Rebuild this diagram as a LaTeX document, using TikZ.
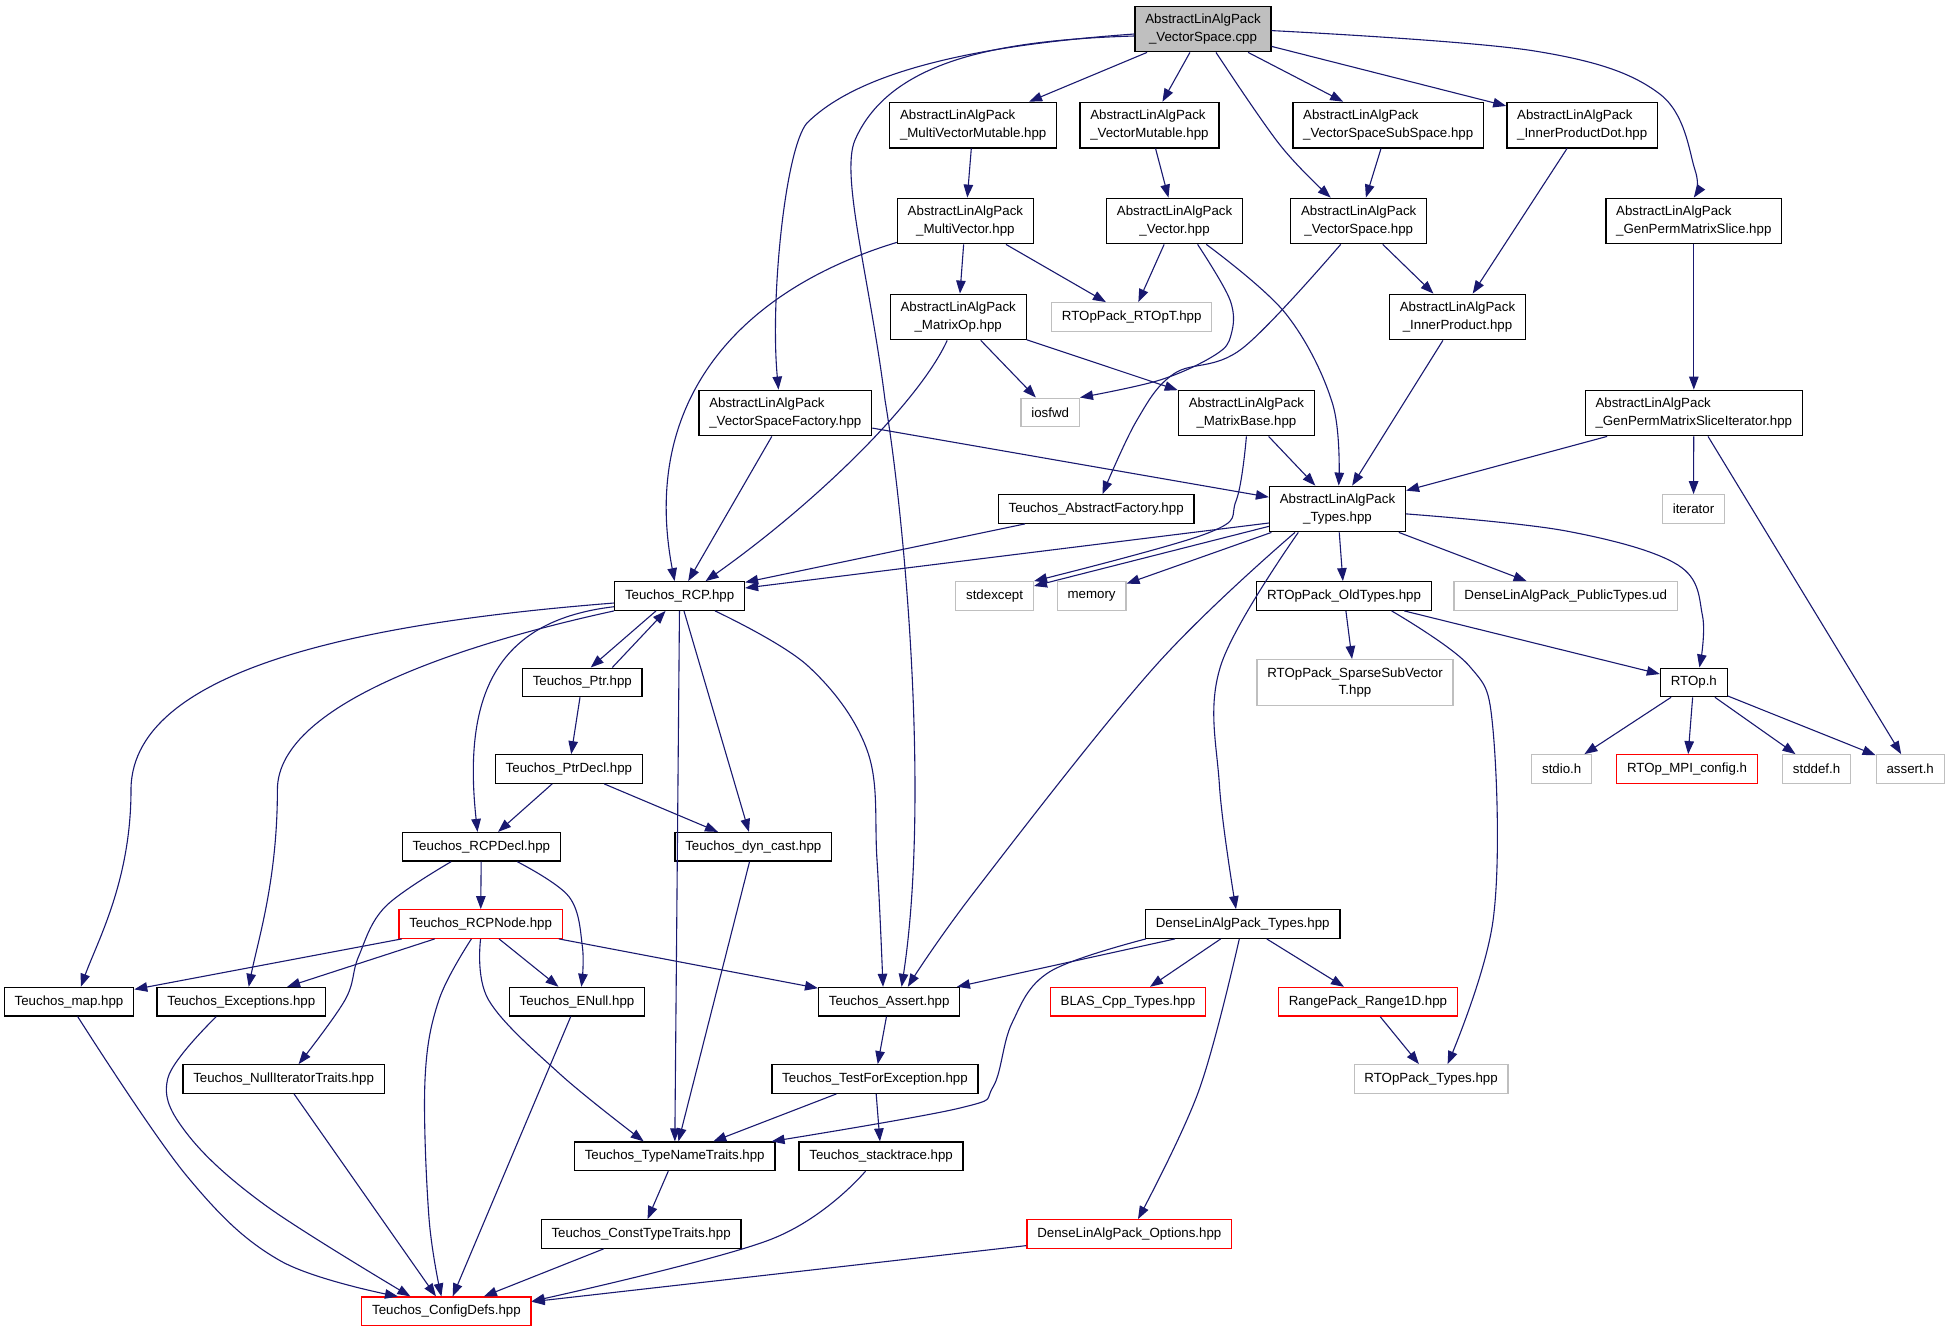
\documentclass[tikz,border=0pt]{standalone}
\usepackage{fontspec}
\setmainfont{Liberation Sans}
\usetikzlibrary{arrows.meta}
\definecolor{edgeblue}{HTML}{191970}
\definecolor{greyline}{HTML}{BFBFBF}
\definecolor{rootfill}{HTML}{BFBFBF}
\definecolor{redline}{HTML}{FF0000}
\begin{document}
\begin{tikzpicture}[x=1pt,y=-1pt,
  box/.style={draw=black,line width=1.3pt,rectangle,inner xsep=10.3pt,inner ysep=2pt,
    minimum height=28.5pt,font=\fontsize{13.3}{17.4}\selectfont},
  two/.style={box,minimum height=45.5pt},
  greybox/.style={draw=greyline},
  redbox/.style={draw=redline},
  dep/.style={draw=edgeblue,line width=1.1pt,-{Triangle[length=13pt,width=9.5pt]}},
  sm/.style={smooth,tension=0.6}]
\useasboundingbox (0,0) rectangle (1949,1331);
\fill[white] (0,0) rectangle (1949,1331);

% nodes
\node[two,fill=rootfill,align=center] (root) at (1203,29) {AbstractLinAlgPack\\\_VectorSpace.cpp};
\node[two,align=left] (mvm) at (973.2,125.1) {AbstractLinAlgPack\\\_MultiVectorMutable.hpp};
\node[two,align=left] (vm) at (1149.4,125.1) {AbstractLinAlgPack\\\_VectorMutable.hpp};
\node[two,align=left] (vss) at (1388.2,125.1) {AbstractLinAlgPack\\\_VectorSpaceSubSpace.hpp};
\node[two,align=left] (ipd) at (1582.2,125.1) {AbstractLinAlgPack\\\_InnerProductDot.hpp};
\node[two,align=center] (mv) at (965.4,221) {AbstractLinAlgPack\\\_MultiVector.hpp};
\node[two,align=center] (vec) at (1174.6,221) {AbstractLinAlgPack\\\_Vector.hpp};
\node[two,align=center] (vs) at (1358.7,221) {AbstractLinAlgPack\\\_VectorSpace.hpp};
\node[two,align=left] (gpms) at (1693.8,221) {AbstractLinAlgPack\\\_GenPermMatrixSlice.hpp};
\node[two,align=center] (mop) at (958.2,317) {AbstractLinAlgPack\\\_MatrixOp.hpp};
\node[box,greybox] (rtopt) at (1131.7,317) {RTOpPack\_RTOpT.hpp};
\node[two,align=center] (ip) at (1457.5,317) {AbstractLinAlgPack\\\_InnerProduct.hpp};
\node[two,align=left] (vsf) at (785.3,413) {AbstractLinAlgPack\\\_VectorSpaceFactory.hpp};
\node[box,greybox] (iosfwd) at (1050.2,412.4) {iosfwd};
\node[two,align=center] (mb) at (1246.4,413) {AbstractLinAlgPack\\\_MatrixBase.hpp};
\node[two,align=left] (gpmsi) at (1693.8,413) {AbstractLinAlgPack\\\_GenPermMatrixSliceIterator.hpp};
\node[box] (af) at (1096.2,509) {Teuchos\_AbstractFactory.hpp};
\node[two,align=center] (types) at (1337.5,509) {AbstractLinAlgPack\\\_Types.hpp};
\node[box,greybox] (iterator) at (1693.5,509) {iterator};
\node[box] (rcp) at (679.6,596) {Teuchos\_RCP.hpp};
\node[box,greybox] (stdexcept) at (994.6,596) {stdexcept};
\node[box,greybox] (memory) at (1091.6,596) {memory};
\node[box] (old) at (1344,596) {RTOpPack\_OldTypes.hpp};
\node[box,greybox] (pub) at (1565.7,596) {DenseLinAlgPack\_PublicTypes.ud};
\node[box] (ptr) at (582.3,682.4) {Teuchos\_Ptr.hpp};
\node[two,greybox,align=center] (ssv) at (1355,682.4) {RTOpPack\_SparseSubVector\\T.hpp};
\node[box] (rtop) at (1693.8,682.4) {RTOp.h};
\node[box] (ptrdecl) at (568.9,769) {Teuchos\_PtrDecl.hpp};
\node[box,greybox] (stdio) at (1561.7,769) {stdio.h};
\node[box,redbox] (mpi) at (1687,769) {RTOp\_MPI\_config.h};
\node[box,greybox] (stddef) at (1816.6,769) {stddef.h};
\node[box,greybox] (asserth) at (1910.2,769) {assert.h};
\node[box] (rcpdecl) at (481.3,846.8) {Teuchos\_RCPDecl.hpp};
\node[box] (dyn) at (753.3,846.8) {Teuchos\_dyn\_cast.hpp};
\node[box,redbox] (rcpnode) at (480.6,924) {Teuchos\_RCPNode.hpp};
\node[box] (dense) at (1242.7,924) {DenseLinAlgPack\_Types.hpp};
\node[box] (map) at (69,1001.7) {Teuchos\_map.hpp};
\node[box] (exc) at (241.3,1001.7) {Teuchos\_Exceptions.hpp};
\node[box] (enull) at (577,1001.7) {Teuchos\_ENull.hpp};
\node[box] (assert) at (889.2,1001.7) {Teuchos\_Assert.hpp};
\node[box,redbox] (blas) at (1128,1001.7) {BLAS\_Cpp\_Types.hpp};
\node[box,redbox] (range) at (1368,1001.7) {RangePack\_Range1D.hpp};
\node[box] (nit) at (283.6,1079) {Teuchos\_NullIteratorTraits.hpp};
\node[box] (tfe) at (875,1079) {Teuchos\_TestForException.hpp};
\node[box,greybox] (rtoptypes) at (1431.1,1079) {RTOpPack\_Types.hpp};
\node[box] (tnt) at (674.7,1156.3) {Teuchos\_TypeNameTraits.hpp};
\node[box] (stack) at (881.1,1156.3) {Teuchos\_stacktrace.hpp};
\node[box] (ctt) at (641.1,1234) {Teuchos\_ConstTypeTraits.hpp};
\node[box,redbox] (options) at (1129.3,1234) {DenseLinAlgPack\_Options.hpp};
\node[box,redbox] (config) at (446.4,1311.3) {Teuchos\_ConfigDefs.hpp};

% straight edges
\foreach \a/\b in {root/mvm,root/vm,root/vss,root/ipd,mvm/mv,vm/vec,vss/vs,ipd/ip,gpms/gpmsi,
  mv/mop,mv/rtopt,vec/rtopt,vs/ip,ip/types,mop/iosfwd,mop/mb,mb/types,vsf/types,vsf/rcp,
  gpmsi/types,gpmsi/iterator,gpmsi/asserth,af/rcp,types/stdexcept,types/memory,types/old,types/pub,
  old/ssv,old/rtop,rtop/stdio,rtop/mpi,rtop/stddef,rtop/asserth,rcp/tnt,rcp/dyn,
  ptr/ptrdecl,ptrdecl/rcpdecl,ptrdecl/dyn,rcpdecl/rcpnode,rcpnode/map,rcpnode/exc,rcpnode/enull,
  rcpnode/assert,dense/assert,dense/blas,dense/range,range/rtoptypes,dyn/tnt,nit/config,
  enull/config,assert/tfe,tfe/tnt,tfe/stack,tnt/ctt,ctt/config,options/config}
  \draw[dep] (\a) -- (\b);

\draw[dep] ([yshift=-14pt]types.west) -- ([yshift=8pt]rcp.east);
\draw[dep] ([xshift=-23.6pt]rcp.south) -- ([xshift=8.4pt]ptr.north);
\draw[dep] ([xshift=30pt]ptr.north) -- ([xshift=-14pt]rcp.south);

% curved edges (Bezier)
\draw[dep] ([yshift=-5pt]root.west) .. controls (980,45) and (860,70) .. (806.7,123.3)
  .. controls (785,150) and (770,300) .. ([xshift=-6.8pt]vsf.north);
\draw[dep] ([yshift=-7pt]root.west) .. controls (1000,40) and (890,60) .. (855,140)
  .. controls (840,175) and (870,280) .. (885,400)
  .. controls (905,520) and (930,800) .. ([xshift=12.4pt]assert.north);
\draw[dep] ([yshift=2pt]mv.south west) .. controls (740,290) and (640,400) .. ([xshift=-5pt]rcp.north);
\draw[dep] ([xshift=-11pt]mop.south) .. controls (920,400) and (820,500) .. ([xshift=26pt]rcp.north);
\draw[dep] ([yshift=-7pt]rcp.west) .. controls (400,620) and (131,660) .. (131,790)
  .. controls (131,880) and (98,940) .. ([xshift=11.8pt]map.north);
\draw[dep] (rcp.south west) .. controls (480,640) and (277,700) .. (277.4,790)
  .. controls (277.4,880) and (258,940) .. ([xshift=7.4pt]exc.north);
\draw[dep] ([yshift=-10.7pt]rcp.west) .. controls (500,620) and (462,690) .. ([xshift=-3.8pt]rcpdecl.north);

% curved edges (smooth)
\draw[dep] plot[sm] coordinates {([xshift=13pt]root.south) (1280,145) ([xshift=-28pt]vs.north)};
\draw[dep] plot[sm] coordinates {([yshift=-1.6pt]root.east) (1534.6,51) (1659,93.4) (1695,170) (gpms.north)};
\draw[dep] plot[sm] coordinates {([xshift=23pt]vec.south) (1230,300) (1231,335) (1215,355) (1160,380) (iosfwd.north east)};
\draw[dep] plot[sm] coordinates {([xshift=31.7pt]vec.south) (1286,314) (1332.5,403.5) ([xshift=1.2pt]types.north)};
\draw[dep] plot[sm] coordinates {([xshift=-18pt]vs.south) (1242.4,348.3) (1174,373.7) (1136.7,420.5) ([xshift=6.3pt]af.north)};
\draw[dep] plot[sm] coordinates {(mb.south) (1236,501) (1208,533) (stdexcept.north east)};
\draw[dep] plot[sm] coordinates {([xshift=-42.5pt]types.south) (1155.3,666) (975,891) ([xshift=18.6pt]assert.north)};
\draw[dep] plot[sm] coordinates {([xshift=-39.2pt]types.south) (1220.6,666) (1219.4,785) ([xshift=-6.7pt]dense.north)};
\draw[dep] plot[sm] coordinates {([yshift=-4.9pt]types.east) (1565.7,530.9) (1677.6,564.8) (1702.5,615.8) ([xshift=5.6pt]rtop.north)};
\draw[dep] plot[sm] coordinates {([xshift=47.6pt]old.south) (1469.3,666) (1493,729.7) (1493,920.8) ([xshift=16.5pt]rtoptypes.north)};
\draw[dep] plot[sm] coordinates {([xshift=-3.4pt]dense.south) (1198.8,1090.7) ([xshift=8.7pt]options.north)};
\draw[dep] plot[sm] coordinates {([xshift=1pt]dense.south west) (1049.6,971.8) (1012,1023) (993,1087) (960,1108) ([xshift=-4pt]tnt.north east)};
\draw[dep] plot[sm] coordinates {([xshift=35.4pt]rcp.south) (808,666) (867.4,751) (877,860) ([xshift=-6.2pt]assert.north)};
\draw[dep] plot[sm] coordinates {([xshift=36pt]rcpdecl.south) (569,896.7) (582.4,946.7) ([xshift=4.4pt]enull.north)};
\draw[dep] plot[sm] coordinates {([xshift=-30.2pt]rcpdecl.south) (385.3,906.7) (358.5,956.7) (345,1000) ([xshift=15pt]nit.north)};
\draw[dep] plot[sm] coordinates {([xshift=-9.2pt]rcpnode.south) (438.9,1000) (425,1080) (429,1218) ([xshift=-5pt]config.north)};
\draw[dep] plot[sm] coordinates {(rcpnode.south) (488.6,1000) (559.6,1073.7) ([xshift=-31pt]tnt.north)};
\draw[dep] plot[sm] coordinates {([xshift=8.7pt]map.south) (186.5,1175.6) (280,1260.6) ([xshift=-48.4pt]config.north)};
\draw[dep] plot[sm] coordinates {([xshift=-25pt]exc.south) (167.9,1078) (186.5,1133) (265,1205) ([xshift=-36pt]config.north)};
\draw[dep] plot[sm] coordinates {([xshift=-15.6pt]stack.south) (771,1239.3) ([yshift=10pt]config.east)};
\end{tikzpicture}
\end{document}
